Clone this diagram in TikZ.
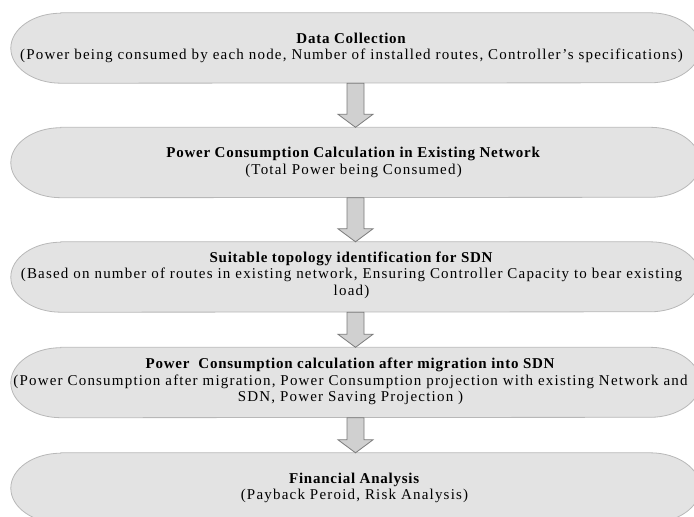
\documentclass[tikz,border=0pt]{standalone}
\usepackage{fontspec}
\setmainfont{Liberation Serif}[LetterSpace=8, BoldFeatures={LetterSpace=5}]
\usetikzlibrary{calc}
\definecolor{boxfill}{HTML}{E3E3E3}
\definecolor{boxline}{HTML}{B8B8B8}
\definecolor{arrfill}{HTML}{D0D0D0}
\definecolor{arrline}{HTML}{7A7A7A}
\tikzset{
  stage/.style={minimum width=689pt, minimum height=70pt, inner sep=0pt, align=center,
     font=\fontsize{15}{16.5}\selectfont},
  stagetext/.style={inner sep=0pt, align=center, font=\fontsize{15}{16.5}\selectfont},
  pillshape/.style={fill=boxfill, draw=boxline, line width=0.8pt},
  blockarrow/.style={fill=arrfill, draw=arrline, line width=0.8pt, line join=miter}
}
\newcommand\pillaround[1]{%
  \path[pillshape] ([xshift=50pt]#1.north west) -- ([xshift=-50pt]#1.north east)
    arc[start angle=90,end angle=-90,x radius=50pt,y radius=35pt]
    -- ([xshift=50pt]#1.south west)
    arc[start angle=270,end angle=90,x radius=50pt,y radius=35pt] -- cycle;}
\newcommand\blockarr[2]{%
  \path[blockarrow] let \p1=(#1.south), \p2=(#2.north) in
    (\x1-8.5pt,\y1) -- (\x1+8.5pt,\y1) -- (\x1+8.5pt,\y2+13pt) -- (\x1+17.5pt,\y2+13pt)
    -- (\x1,\y2) -- (\x1-17.5pt,\y2+13pt) -- (\x1-8.5pt,\y2+13pt) -- cycle;}
\begin{document}
\begin{tikzpicture}[x=1pt,y=-1pt]
\useasboundingbox (0,0) rectangle (694,517);
\clip (0,0) rectangle (694,517);
\node[stage] (b1) at (355.5,48) {};
\node[stage] (b2) at (355.5,162.5) {};
\node[stage] (b3) at (355.5,277) {};
\node[stage] (b4) at (355.5,382.5) {};
\node[stage] (b5) at (355.5,488) {};
\pillaround{b1}\pillaround{b2}\pillaround{b3}\pillaround{b4}\pillaround{b5}
\node[stagetext] (t1) at ([xshift=-4pt]b1) {\textbf{Data Collection}\\(Power being consumed by each node, Number of installed routes, Controller’s specifications)};
\node[stagetext] (t2) at ([xshift=-2pt]b2) {\textbf{Power Consumption Calculation in Existing Network}\\(Total Power being Consumed)};
\node[stagetext] (t3) at ([xshift=-4pt,yshift=2pt]b3) {\textbf{Suitable topology identification for SDN}\\(Based on number of routes in existing network, Ensuring Controller Capacity to bear existing\\load)};
\node[stagetext] (t4) at ([xshift=-5pt,yshift=1pt]b4) {\textbf{Power\ \ Consumption calculation after migration into SDN}\\(Power Consumption after migration, Power Consumption projection with existing Network and\\SDN, Power Saving Projection )};
\node[stagetext] (t5) at ([xshift=-1pt]b5) {\textbf{Financial Analysis}\\(Payback Peroid, Risk Analysis)};
\blockarr{b1}{b2}\blockarr{b2}{b3}\blockarr{b3}{b4}\blockarr{b4}{b5}
\end{tikzpicture}
\end{document}
